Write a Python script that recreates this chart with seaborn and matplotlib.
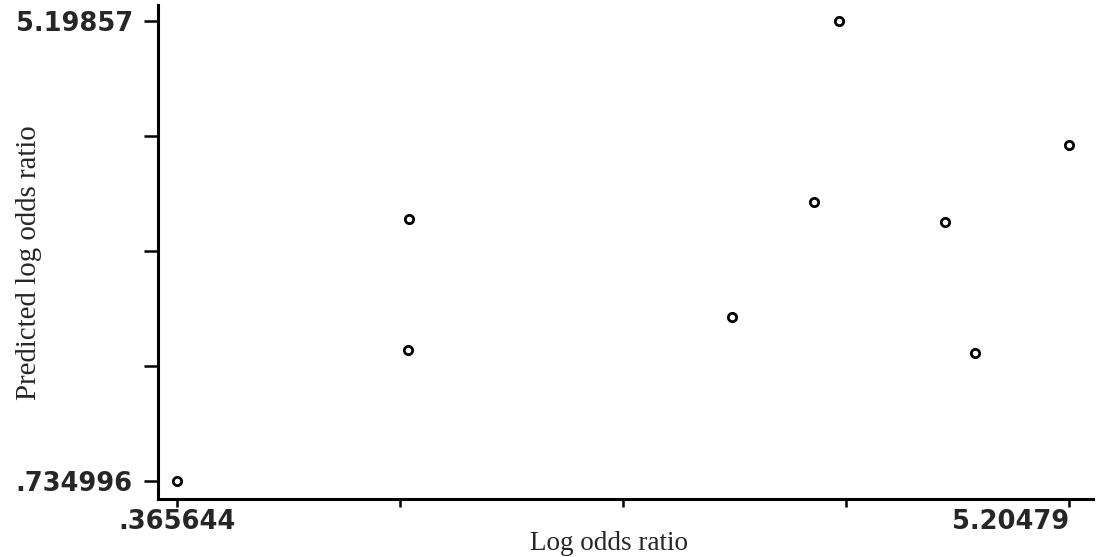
import numpy as np
import pandas as pd
import matplotlib
matplotlib.use("Agg")
import matplotlib.pyplot as plt
from matplotlib.transforms import ScaledTranslation
import seaborn as sns

# Observed vs. predicted log odds ratios
log_odds = [0.365644, 1.6234, 1.6180, 3.3778, 3.8223, 3.9562, 4.5293, 4.6951, 5.20479]
predicted = [0.734996, 3.2773, 2.0061, 2.3234, 3.4393, 5.19857, 3.2482, 1.9741, 3.9953]

x_min, x_max = 0.365644, 5.20479
y_min, y_max = 0.734996, 5.19857
x_labels = [".365644", "", "", "", "5.20479"]
y_labels = [".734996", "", "", "", "5.19857"]

df = pd.DataFrame({"Log odds ratio": log_odds, "Predicted log odds ratio": predicted})

sns.set_style("ticks")
plt.rcParams["font.family"] = ["DejaVu Sans"]

fig = plt.figure(figsize=(11.01, 5.57), dpi=100)
ax = fig.add_axes([158 / 1101, 1 - 499 / 557, (1093 - 158) / 1101, (499 - 5) / 557])

sns.scatterplot(data=df, x="Log odds ratio", y="Predicted log odds ratio", ax=ax,
                marker="o", s=36, facecolor="white", edgecolor="black", linewidth=2.0)

xr = x_max - x_min
yr = y_max - y_min
ax.set_xlim(x_min - 0.021 * xr, x_max + 0.0265 * xr)
ax.set_ylim(y_min - 0.039 * yr, y_max + 0.0348 * yr)

ax.set_xticks(np.linspace(x_min, x_max, 5))
ax.set_xticklabels(x_labels)
ax.set_yticks(np.linspace(y_min, y_max, 5))
ax.set_yticklabels(y_labels)

for lab in ax.get_xticklabels() + ax.get_yticklabels():
    lab.set_fontfamily("DejaVu Sans")
    lab.set_fontweight("bold")
    lab.set_fontsize(18.5)

# the last x label sits flush with the end of the axis line
last = ax.get_xticklabels()[-1]
last.set_horizontalalignment("right")
last.set_transform(last.get_transform() + ScaledTranslation(0.24, 0, fig.dpi_scale_trans))

ax.tick_params(axis="y", direction="out", length=10, width=1.8, color="black", pad=8)
ax.tick_params(axis="x", direction="out", length=5.5, width=1.8, color="black", pad=2)

for side in ["top", "right"]:
    ax.spines[side].set_visible(False)
for side in ["left", "bottom"]:
    ax.spines[side].set_linewidth(2.2)
    ax.spines[side].set_color("black")

ax.set_xlabel("Log odds ratio", fontfamily="Liberation Serif", fontsize=19.5)
ax.set_ylabel("Predicted log odds ratio", fontfamily="Liberation Serif", fontsize=20.8)
ax.xaxis.set_label_coords(0.482, -0.064)
ax.yaxis.set_label_coords(-0.124, 0.478)

fig.savefig("out.png", dpi=100, facecolor="white")
